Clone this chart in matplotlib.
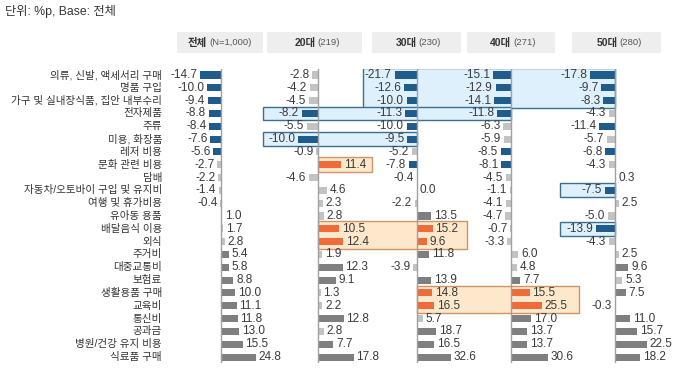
import matplotlib
matplotlib.use('Agg')
import matplotlib.pyplot as plt
from matplotlib.patches import Rectangle

plt.rcParams['font.family'] = ['Liberation Sans', 'Noto Sans CJK KR', 'DejaVu Sans']

# ---------------- data ----------------
categories = [
    '의류, 신발, 액세서리 구매', '명품 구입', '가구 및 실내장식품, 집안 내부수리', '전자제품',
    '주류', '미용, 화장품', '레저 비용', '문화 관련 비용', '담배',
    '자동차/오토바이 구입 및 유지비', '여행 및 휴가비용', '유아동 용품', '배달음식 이용',
    '외식', '주거비', '대중교통비', '보험료', '생활용품 구매', '교육비', '통신비',
    '공과금', '병원/건강 유지 비용', '식료품 구매',
]
groups = ['전체', '20대', '30대', '40대', '50대']
group_n = ['(N=1,000)', '(219)', '(230)', '(271)', '(280)']

total = [-14.7, -10.0, -9.4, -8.8, -8.4, -7.6, -5.6, -2.7, -2.2, -1.4, -0.4, 1.0, 1.7,
         2.8, 5.4, 5.8, 8.8, 10.0, 11.1, 11.8, 13.0, 15.5, 24.8]
age20 = [-2.8, -4.2, -4.5, -8.2, -5.5, -10.0, -0.9, 11.4, -4.6, 4.6, 2.3, 2.8, 10.5,
         12.4, 1.9, 12.3, 9.1, 1.3, 2.2, 12.8, 2.8, 7.7, 17.8]
age30 = [-21.7, -12.6, -10.0, -11.3, -10.0, -9.5, -5.2, -7.8, -0.4, 0.0, -2.2, 13.5, 15.2,
         9.6, 11.8, -3.9, 13.9, 14.8, 16.5, 5.7, 18.7, 16.5, 32.6]
age40 = [-15.1, -12.9, -14.1, -11.8, -6.3, -5.9, -8.5, -8.1, -4.5, -1.1, -4.1, -4.7, -0.7,
         -3.3, 6.0, 4.8, 7.7, 15.5, 25.5, 17.0, 13.7, 13.7, 30.6]
age50 = [-17.8, -9.7, -8.3, -4.3, -11.4, -5.7, -6.8, -4.3, 0.3, -7.5, 2.5, -5.0, -13.9,
         -4.3, 2.5, 9.6, 5.3, 7.5, -0.3, 11.0, 15.7, 22.5, 18.2]

# significance flags (1 = significant difference)
sig_total = [1, 1, 1, 1, 1, 1, 1, 0, 0, 0, 0, 0, 0, 0, 1, 1, 1, 1, 1, 1, 1, 1, 1]
sig_20 = [0, 0, 0, 1, 0, 1, 0, 1, 0, 0, 0, 0, 1, 1, 0, 1, 1, 0, 0, 1, 0, 1, 1]
sig_30 = [1, 1, 1, 1, 1, 1, 0, 1, 0, 0, 0, 1, 1, 1, 1, 0, 1, 1, 1, 0, 1, 1, 1]
sig_40 = [1, 1, 1, 1, 0, 0, 1, 1, 0, 0, 0, 0, 0, 0, 0, 0, 1, 1, 1, 1, 1, 1, 1]
sig_50 = [1, 1, 1, 0, 1, 0, 1, 0, 0, 1, 0, 0, 1, 0, 0, 1, 0, 1, 0, 1, 1, 1, 1]

# highlighted (distinctive) positive cells per group: row indices
hl_20 = [7, 12, 13]
hl_30 = [12, 13, 17, 18]
hl_40 = [17, 18]

series = [total, age20, age30, age40, age50]
sigs = [sig_total, sig_20, sig_30, sig_40, sig_50]
hls = [[], hl_20, hl_30, hl_40, []]

# ---------------- layout / style ----------------
W, H = 680, 370
BLUE = '#1f5b8b'
LGRAY = '#c3c3c3'
DGRAY = '#7f7f7f'
ORANGE = '#f06b3a'
BOX_BLUE_FC, BOX_BLUE_EC = '#ddf0fb', '#3d6d8f'
BOX_OR_FC, BOX_OR_EC = '#fde8cb', '#cf9466'
TXT = '#333333'

col_x0 = [221, 318, 417, 511, 615]        # zero line position (px)
col_scale = [1.4, 2.0, 1.03, 1.2, 1.4]    # px per unit
half_w = 50

row0, step = 75.0, 12.82
n = len(categories)
top_px = row0 - step / 2
bot_px = top_px + n * step
ax_bottom = 1 - bot_px / H
ax_height = (bot_px - top_px) / H

fig = plt.figure(figsize=(W / 100, H / 100), dpi=100)

# background axes: x in pixels, y in row units
bg = fig.add_axes([0, ax_bottom, 1, ax_height], zorder=0)
bg.set_xlim(0, W)
bg.set_ylim(n - 0.5, -0.5)
bg.axis('off')

# highlight boxes: (x_left_px, x_right_px, row_start, row_end, kind)
boxes = [
    (363, 615, 0, 2, 'b'),
    (263, 511, 3, 3, 'b'),
    (263, 417, 5, 5, 'b'),
    (560, 615, 9, 9, 'b'),
    (560, 615, 12, 12, 'b'),
    (318, 372, 7, 7, 'o'),
    (318, 467, 12, 13, 'o'),
    (417, 579, 17, 18, 'o'),
]
for xl, xr, r0, r1, kind in boxes:
    fc, ec = (BOX_BLUE_FC, BOX_BLUE_EC) if kind == 'b' else (BOX_OR_FC, BOX_OR_EC)
    pad = 0.04 if kind == 'b' else 0.08
    bg.add_patch(Rectangle((xl, r0 - 0.5 - pad), xr - xl, r1 - r0 + 1 + 2 * pad,
                           facecolor=fc, edgecolor=ec, lw=1.0))

for i, cat in enumerate(categories):
    bg.text(162, i, cat, ha='right', va='center', fontsize=7.6, color=TXT)

# columns
for c in range(len(groups)):
    x0, s = col_x0[c], col_scale[c]
    ax = fig.add_axes([(x0 - half_w) / W, ax_bottom, 2 * half_w / W, ax_height], zorder=1)
    ax.patch.set_alpha(0)
    ax.set_xlim(-half_w / s, half_w / s)
    ax.set_ylim(n - 0.5, -0.5)
    ax.axis('off')
    vals = series[c]
    colors = []
    for i, v in enumerate(vals):
        if i in hls[c]:
            colors.append(ORANGE)
        elif sigs[c][i]:
            colors.append(BLUE if v < 0 else DGRAY)
        else:
            colors.append(LGRAY)
    ax.barh(range(n), vals, height=0.55, color=colors, zorder=2)
    ax.axvline(0, color='#a0a0a0', lw=1.0, zorder=3)
    for i, v in enumerate(vals):
        neg = v < 0
        ax.annotate(f'{v:.1f}', xy=(v, i), xytext=(-2 if neg else 2, 0),
                    textcoords='offset points', ha='right' if neg else 'left',
                    va='center', fontsize=8.5, color='#3a3a3a',
                    annotation_clip=False, zorder=4)

# headers
hdr = [(177, 263, -13), (267, 362, 1), (372, 461, 0), (467, 555, 0), (572, 661, 1)]
for (xl, xr, off), g, nn, x0 in zip(hdr, groups, group_n, col_x0):
    fig.add_artist(Rectangle((xl / W, 1 - 53 / H), (xr - xl) / W, 21 / H,
                             transform=fig.transFigure, facecolor='#eeeeee',
                             edgecolor='none', zorder=0))
    cx = (xl + xr) / 2 + off
    fig.text(cx / W, 1 - 42.5 / H, g, ha='right', va='center', fontsize=7.5,
             fontweight='bold', color='#333333')
    fig.text((cx + 2) / W, 1 - 42.5 / H, nn, ha='left', va='center', fontsize=6.8,
             color='#555555')

fig.text(5 / W, 1 - 12 / H, '단위: %p, Base: 전체', ha='left', va='center',
         fontsize=8.8, color='#333333')

fig.savefig('out.png', dpi=100)
